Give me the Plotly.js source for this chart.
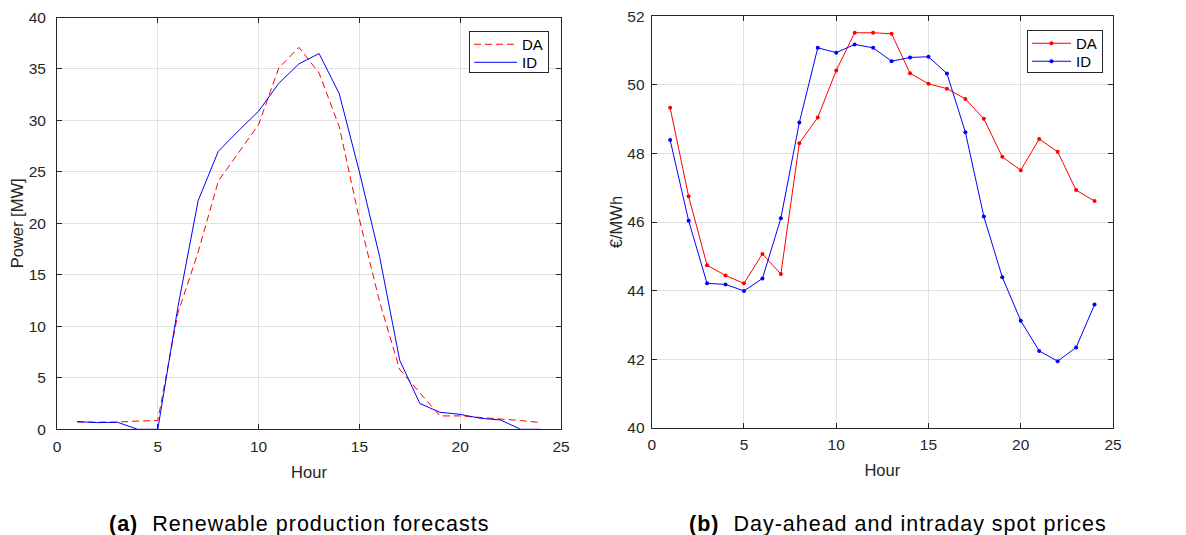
<!DOCTYPE html>
<html>
<head>
<meta charset="utf-8">
<script src="https://cdn.plot.ly/plotly-3.0.1.min.js"></script>
<style>
html,body{margin:0;padding:0;background:#fff;}
#chart{width:1186px;height:535px;}
.annotation-text{letter-spacing:1px;}
</style>
</head>
<body>
<div id="chart"></div>
<script>
var hours = [1,2,3,4,5,6,7,8,9,10,11,12,13,14,15,16,17,18,19,20,21,22,23,24];
var powerDA = [0.7,0.7,0.7,0.8,0.85,11.3,17.2,24.1,26.8,29.6,35.1,37.1,34.6,29.4,20.4,12.4,5.8,3.6,1.3,1.3,1.15,1.05,0.85,0.65];
var powerID = [0.75,0.65,0.68,0,0,11.9,22.2,27.0,29.0,30.9,33.6,35.5,36.5,32.6,25.0,16.8,6.7,2.5,1.65,1.45,1.07,0.9,0,0];
var priceDA = [49.33,46.75,44.74,44.44,44.21,45.07,44.48,48.30,49.05,50.42,51.52,51.52,51.49,50.34,50.03,49.89,49.59,49.01,47.90,47.51,48.42,48.05,46.93,46.61];
var priceID = [48.39,46.04,44.21,44.18,43.99,44.35,46.11,48.90,51.08,50.94,51.18,51.08,50.69,50.80,50.82,50.33,48.62,46.16,44.39,43.12,42.24,41.94,42.34,43.59];
var seriesNames = ['DA','ID'];
var xTitle = 'Hour';
var yTitleA = 'Power [MW]';
var yTitleB = '€/MWh';
var captionA = '<b>(a)</b>  Renewable production forecasts';
var captionB = '<b>(b)</b>  Day-ahead and intraday spot prices';

var red = '#ff0000', blue = '#0000ff';
var font = 'Liberation Sans, Arial, sans-serif';
var axisColor = '#262626';

var traces = [
  {x: hours, y: powerDA, name: seriesNames[0], mode: 'lines', line: {color: red, width: 1, dash: '7px,4px'}, xaxis: 'x', yaxis: 'y', legend: 'legend'},
  {x: hours, y: powerID, name: seriesNames[1], mode: 'lines', line: {color: blue, width: 1}, xaxis: 'x', yaxis: 'y', legend: 'legend'},
  {x: hours, y: priceDA, name: seriesNames[0], mode: 'lines+markers', line: {color: red, width: 1}, marker: {color: red, size: 4}, xaxis: 'x2', yaxis: 'y2', legend: 'legend2'},
  {x: hours, y: priceID, name: seriesNames[1], mode: 'lines+markers', line: {color: blue, width: 1}, marker: {color: blue, size: 4}, xaxis: 'x2', yaxis: 'y2', legend: 'legend2'}
];

function ax(extra) {
  var base = {
    showline: true, linecolor: axisColor, linewidth: 1, mirror: 'ticks',
    ticks: 'inside', ticklen: 5, tickcolor: axisColor,
    showgrid: true, gridcolor: '#e0e0e0', gridwidth: 1, zeroline: false,
    tickfont: {family: font, size: 15.5, color: axisColor},
    fixedrange: true
  };
  for (var k in extra) base[k] = extra[k];
  return base;
}
var titleFont = {family: font, size: 16.5, color: axisColor};

var layout = {
  width: 1186, height: 535,
  margin: {l: 0, r: 0, t: 0, b: 0},
  paper_bgcolor: '#ffffff', plot_bgcolor: '#ffffff',
  showlegend: true,
  font: {family: font, color: axisColor},
  xaxis: ax({domain: [57/1186, 561/1186], range: [0, 25], dtick: 5, tick0: 0, anchor: 'y', ticklabelstandoff: 3,
    title: {text: xTitle, font: titleFont, standoff: 12}}),
  yaxis: ax({domain: [(535-429.3)/535, (535-17.5)/535], range: [0, 40], dtick: 5, tick0: 0, anchor: 'x', ticklabelstandoff: 7,
    title: {text: yTitleA, font: titleFont, standoff: 0}}),
  xaxis2: ax({domain: [651.7/1186, 1113/1186], range: [0, 25], dtick: 5, tick0: 0, anchor: 'y2', ticklabelstandoff: 3,
    title: {text: xTitle, font: titleFont, standoff: 12}}),
  yaxis2: ax({domain: [(535-427.7)/535, (535-16.3)/535], range: [40, 52], dtick: 2, tick0: 40, anchor: 'x2', ticklabelstandoff: 3,
    title: {text: yTitleB, font: titleFont, standoff: 0}}),
  legend: {x: 549/1186, y: (535-31)/535, xanchor: 'right', yanchor: 'top', bgcolor: '#ffffff', itemwidth: 42,
    bordercolor: axisColor, borderwidth: 1, font: {family: font, size: 15, color: '#000'}, tracegroupgap: 0},
  legend2: {x: 1103/1186, y: (535-30)/535, xanchor: 'right', yanchor: 'top', bgcolor: '#ffffff', itemwidth: 38,
    bordercolor: axisColor, borderwidth: 1, font: {family: font, size: 15, color: '#000'}, tracegroupgap: 0},
  annotations: [
    {text: captionA, xref: 'paper', yref: 'paper', x: 107/1186, y: (535-524)/535, xanchor: 'left', yanchor: 'middle', showarrow: false, font: {family: font, size: 21.5, color: '#000'}},
    {text: captionB, xref: 'paper', yref: 'paper', x: 687/1186, y: (535-524)/535, xanchor: 'left', yanchor: 'middle', showarrow: false, font: {family: font, size: 21.5, color: '#000'}}
  ]
};

function tidyLegend(cls, lineLen, boxH) {
  var lg = document.querySelector('#chart g.' + cls);
  if (!lg) return;
  var items = lg.querySelectorAll('g.traces');
  if (items.length < 2) return;
  var parse = function (t) { var m = /translate\(([-\d.]+)[ ,]+([-\d.]+)\)/.exec(t || ''); return m ? [parseFloat(m[1]), parseFloat(m[2])] : [0, 0]; };
  var p0 = parse(items[0].getAttribute('transform'));
  var p1 = parse(items[1].getAttribute('transform'));
  var y0 = p0[1] - 4;
  items[0].setAttribute('transform', 'translate(' + p0[0] + ',' + y0 + ')');
  items[1].setAttribute('transform', 'translate(' + p1[0] + ',' + (y0 + 18) + ')');
  var bg = lg.querySelector('rect.bg');
  if (bg) bg.setAttribute('height', boxH);
  lg.querySelectorAll('g.legendlines path').forEach(function (p) { p.setAttribute('d', 'M4,0h' + lineLen); });
  lg.querySelectorAll('g.legendpoints path').forEach(function (p) { p.setAttribute('transform', 'translate(' + (4 + lineLen / 2) + ',0)'); });
}

Plotly.newPlot('chart', traces, layout, {displayModeBar: false, staticPlot: true}).then(function () {
  tidyLegend('legend', 43, 41);
  tidyLegend('legend2', 39, 42);
});
</script>
</body>
</html>
